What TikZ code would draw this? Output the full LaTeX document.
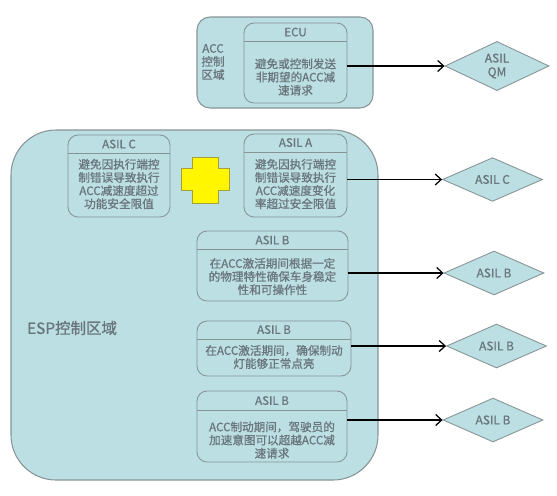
\documentclass[tikz,border=0pt]{standalone}
\usepackage{fontspec}
\setmainfont{Noto Sans CJK SC}[AutoFakeBold=0.9]
\usetikzlibrary{arrows.meta,calc,shapes.geometric}
\definecolor{zonefill}{RGB}{188,223,228}
\definecolor{zoneline}{RGB}{135,148,150}
\definecolor{txtgray}{RGB}{105,118,124}
\definecolor{crossfill}{RGB}{255,246,0}
\definecolor{crossline}{RGB}{165,160,60}
\tikzset{zone/.style={draw=zoneline,fill=zonefill,line width=0.6pt},
  unit/.style={draw=zoneline,fill=zonefill,rounded corners=0.2cm,line width=0.5pt,inner sep=0pt},
  head/.style={text=txtgray,font=\fontsize{6.6}{7.8}\selectfont\bfseries},
  body/.style={text=txtgray,align=center,inner sep=0pt,font=\fontsize{6.6}{7.5}\selectfont\bfseries},
  risk/.style={diamond,draw=zoneline,fill=zonefill,line width=0.5pt,inner sep=0pt,
    minimum width=2cm,minimum height=0.82cm,text=txtgray,align=center,font=\fontsize{6.8}{7.8}\selectfont\bfseries},
  arr/.style={-{Straight Barb[length=1.2mm,width=2.2mm]},line width=0.7pt}}

\begin{document}
\begin{tikzpicture}[x=0.02cm,y=-0.02cm]
\useasboundingbox (0,0) rectangle (557,495);
% control zones
\draw[zone,rounded corners=0.26cm] (197,17) rectangle (373,108);
\node[body] (acczone) at (213,62) {ACC\\控制\\区域};
\draw[zone,rounded corners=0.9cm] (11,130) rectangle (378,480);
\node[body,font=\fontsize{8.8}{10}\selectfont\bfseries] (espzone) at (72,328) {ESP控制区域};
% safety goals
\node[unit,minimum width=2.06cm,minimum height=1.6cm] (ecu) at (295.5,63) {};
\node[unit,minimum width=2.04cm,minimum height=1.64cm] (asilc) at (119,176) {};
\node[unit,minimum width=2.06cm,minimum height=1.66cm] (asila) at (295.5,175.5) {};
\node[unit,minimum width=3.02cm,minimum height=1.4cm] (asilb1) at (272.5,266) {};
\node[unit,minimum width=3.08cm,minimum height=1.1cm] (asilb2) at (274,348.5) {};
\node[unit,minimum width=3cm,minimum height=1.42cm] (asilb3) at (272,426.5) {};
\foreach \b in {ecu,asilc,asila,asilb1,asilb2}
  \draw[zoneline,line width=0.5pt] ($(\b.north west)+(0,18.5)$) -- ($(\b.north east)+(0,18.5)$);
\draw[zoneline,line width=0.5pt] ($(asilb3.north west)+(0,20)$) -- ($(asilb3.north east)+(0,20)$);
\node[head] (ecuhead) at ($(ecu.north)+(0,9.5)$) {ECU};
\node[head] (asilchead) at ($(asilc.north)+(0,9.5)$) {ASIL C};
\node[head] (asilahead) at ($(asila.north)+(0,9)$) {ASIL A};
\node[head] (asilb1head) at ($(asilb1.north)+(0,9.5)$) {ASIL B};
\node[head] (asilb2head) at ($(asilb2.north)+(0,9)$) {ASIL B};
\node[head] (asilb3head) at ($(asilb3.north)+(0,10)$) {ASIL B};
\node[body] (ecutext) at (295.5,77) {避免或控制发送\\非期望的ACC减\\速请求};
\node[body] (asilctext) at (119,184) {避免因执行端控\\制错误导致执行\\ACC减速度超过\\功能安全限值};
\node[body] (asilatext) at (295.5,184) {避免因执行端控\\制错误导致执行\\ACC减速度变化\\率超过安全限值};
\node[body] (asilb1text) at (272.5,276.5) {在ACC激活期间根据一定\\的物理特性确保车身稳定\\性和可操作性};
\node[body] (asilb2text) at (274,357) {在ACC激活期间，确保制动\\灯能够正常点亮};
\node[body] (asilb3text) at (272,440) {ACC制动期间，驾驶员的\\加速意图可以超越ACC减\\速请求};
% yellow cross
\draw[crossline,fill=crossfill,line width=0.5pt] (192,157) -- (218,157) -- (218,168) -- (229,168)
  -- (229,190) -- (218,190) -- (218,203) -- (192,203) -- (192,190) -- (181,190)
  -- (181,168) -- (192,168) -- cycle;
% ASIL ratings
\node[risk,minimum width=2.08cm,minimum height=0.84cm] (qm) at (497,66) {ASIL\\QM};
\node[risk] (ratec) at (492.5,179.5) {ASIL C};
\node[risk] (rateb1) at (494,273) {ASIL B};
\node[risk] (rateb2) at (496.5,346) {ASIL B};
\node[risk] (rateb3) at (493,420) {ASIL B};
\draw[arr] (ecu.east |- qm.west) -- (qm.west);
\draw[arr] (asila.east |- ratec.west) -- (ratec.west);
\draw[arr] (asilb1.east |- rateb1.west) -- (rateb1.west);
\draw[arr] (asilb2.east |- rateb2.west) -- (rateb2.west);
\draw[arr] (asilb3.east |- rateb3.west) -- (rateb3.west);
\end{tikzpicture}
\end{document}
